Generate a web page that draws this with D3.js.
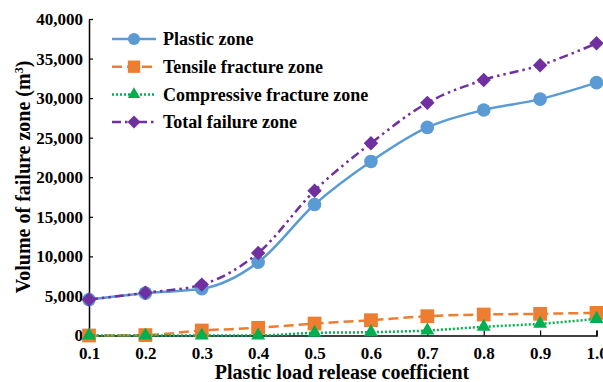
<!DOCTYPE html>
<html>
<head>
<meta charset="utf-8">
<script src="https://cdn.jsdelivr.net/npm/d3@7"></script>
<style>
  body { margin: 0; background: #fff; }
</style>
</head>
<body>
<svg id="chart" width="603" height="382"></svg>
<script>
'use strict';

var coefficients = [0.1, 0.2, 0.3, 0.4, 0.5, 0.6, 0.7, 0.8, 0.9, 1.0];
var plasticZone = [4540, 5350, 5900, 9250, 16550, 22000, 26300, 28500, 29870, 31960];
var tensileZone = [0, 50, 630, 970, 1510, 1930, 2440, 2650, 2740, 2860];
var compressiveZone = [0, 0, 0, 0, 340, 420, 630, 1100, 1480, 2100];
var totalZone = [4540, 5400, 6430, 10430, 18300, 24300, 29400, 32300, 34150, 36930];
var yTicks = [0, 5000, 10000, 15000, 20000, 25000, 30000, 35000, 40000];
var seriesNames = ['Plastic zone', 'Tensile fracture zone', 'Compressive fracture zone', 'Total failure zone'];

var FONT = 'Liberation Serif';

var svg = d3.select('#chart');

var x = d3.scaleLinear().domain([0.1, 1.0]).range([89, 596.5]);
var y = d3.scaleLinear().domain([0, 40000]).range([335.5, 19]);

// diamond drawn as a rotated square so it is not stretched
var diamond = {
    draw: function (ctx, size) {
        var r = Math.sqrt(size / 2);
        ctx.moveTo(0, -r);
        ctx.lineTo(r, 0);
        ctx.lineTo(0, r);
        ctx.lineTo(-r, 0);
        ctx.closePath();
    }
};

var series = [
    { name: seriesNames[0], values: plasticZone, color: '#5b9bd5', dash: null, symbol: d3.symbolCircle, size: 145 },
    { name: seriesNames[1], values: tensileZone, color: '#ed7d31', dash: '10,5', symbol: d3.symbolSquare, size: 190 },
    { name: seriesNames[2], values: compressiveZone, color: '#00b050', dash: '2,2', symbol: d3.symbolTriangle, size: 85 },
    { name: seriesNames[3], values: totalZone, color: '#7030a0', dash: '9,4,2.5,4,2.5,4', symbol: diamond, size: 105 }
];

function serif(sel, size) {
    sel.attr('font-family', FONT)
        .attr('font-weight', 'bold')
        .attr('font-size', size)
        .attr('fill', '#000');
}

// axes
var xAxis = d3.axisBottom(x)
    .tickValues(coefficients)
    .tickFormat(d3.format('.1f'))
    .tickSizeInner(-5)
    .tickSizeOuter(-5)
    .tickPadding(11);

var yAxis = d3.axisLeft(y)
    .tickValues(yTicks)
    .tickFormat(d3.format(','))
    .tickSizeInner(-4)
    .tickSizeOuter(0)
    .tickPadding(6);

var gx = svg.append('g')
    .attr('transform', 'translate(0,' + y(0) + ')')
    .call(xAxis);

var gy = svg.append('g')
    .attr('transform', 'translate(' + x(0.1) + ',0)')
    .call(yAxis);

[gx, gy].forEach(function (g) {
    g.select('.domain').attr('stroke', '#000').attr('stroke-width', 1.5);
    g.selectAll('.tick line').attr('stroke', '#000').attr('stroke-width', 1.2);
    g.selectAll('.tick text').call(serif, 17);
});

// lines and markers
series.forEach(function (s) {
    var pts = coefficients.map(function (c, i) { return [x(c), y(s.values[i])]; });
    var line = d3.line().curve(d3.curveMonotoneX);

    svg.append('path')
        .attr('d', line(pts))
        .style('fill', 'none')
        .style('stroke', s.color)
        .style('stroke-width', 2.5)
        .style('stroke-dasharray', s.dash);

    svg.append('g').selectAll('path')
        .data(pts)
        .enter().append('path')
        .attr('transform', function (p) { return 'translate(' + p[0] + ',' + p[1] + ')'; })
        .attr('d', d3.symbol().type(s.symbol).size(s.size)())
        .style('fill', s.color);
});

// legend
var legend = svg.append('g').attr('transform', 'translate(112,39)');
series.forEach(function (s, i) {
    var row = legend.append('g').attr('transform', 'translate(0,' + (i * 27.7) + ')');
    row.append('line')
        .attr('x1', 0).attr('x2', 44)
        .style('stroke', s.color)
        .style('stroke-width', 2.5)
        .style('stroke-dasharray', s.dash);
    row.append('path')
        .attr('transform', 'translate(22,0)')
        .attr('d', d3.symbol().type(s.symbol).size(s.size * 0.8)())
        .style('fill', s.color);
    row.append('text')
        .attr('x', 51)
        .attr('dy', '0.35em')
        .call(serif, 18)
        .text(s.name);
});

// axis titles
svg.append('text')
    .attr('x', 342)
    .attr('y', 379)
    .attr('text-anchor', 'middle')
    .call(serif, 20)
    .text('Plastic load release coefficient');

var yt = svg.append('text')
    .attr('transform', 'translate(30,177) rotate(-90)')
    .attr('text-anchor', 'middle')
    .call(serif, 20);
yt.append('tspan').text('Volume of failure zone (m');
yt.append('tspan').attr('dy', -7).attr('font-size', 12).text('3');
yt.append('tspan').attr('dy', 7).text(')');
</script>
</body>
</html>
